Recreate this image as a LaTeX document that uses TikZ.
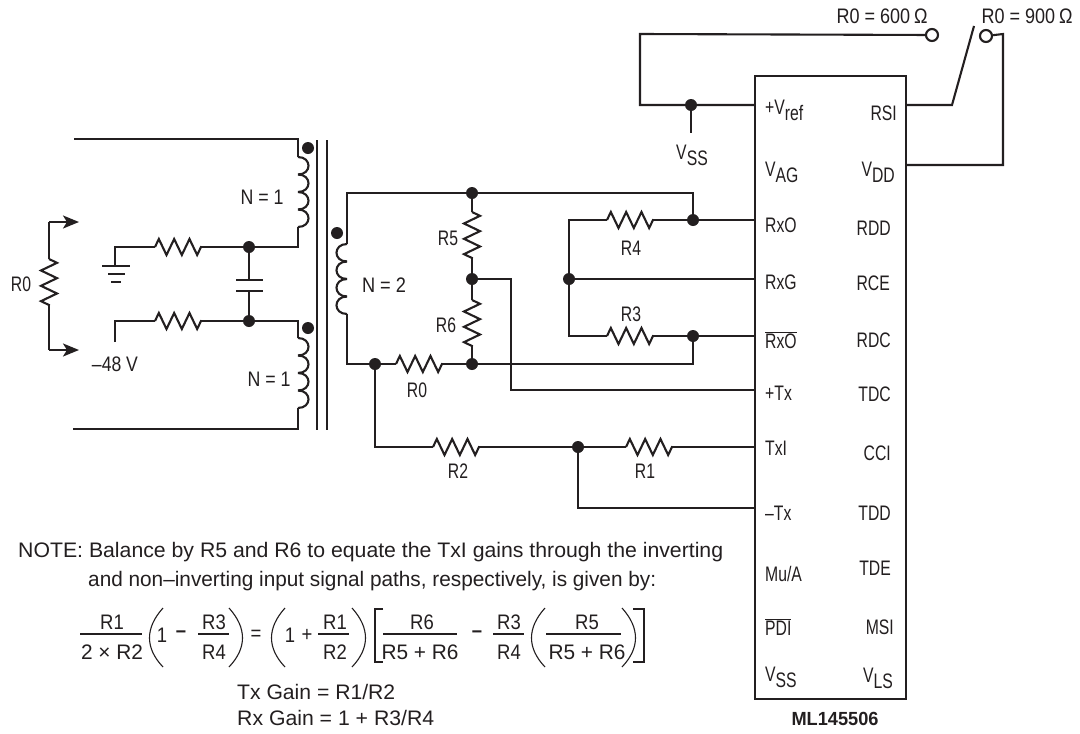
\documentclass[tikz,border=0pt]{standalone}
\usepackage{fontspec}
\usepackage{graphicx}
\setmainfont{Liberation Sans}
\newfontfamily\condf[FakeStretch=0.75]{Liberation Sans}
\newfontfamily\eqf[FakeStretch=0.88]{Liberation Sans}
\newfontfamily\boldf{Liberation Sans Bold}
\usetikzlibrary{arrows.meta,decorations.pathmorphing}
\definecolor{ink}{HTML}{231F20}
\newcommand{\fitw}[2]{\resizebox{#1pt}{\height}{#2}}
\newcommand{\sbs}[2]{#1\raisebox{-6pt}{#2}}
\newcommand{\ovl}[1]{$\overline{\hbox{#1}}$}
\newcommand{\coil}[3]{\foreach \i in {0,1,2,3}{\draw[wire] ({#1},{#2+\i*17.5}) .. controls ({#1+#3*14},{#2+\i*17.5}) and ({#1+#3*14},{#2+\i*17.5+17.5}) .. ({#1},{#2+\i*17.5+17.5});}}
\tikzset{
  wire/.style={draw=ink,line width=2.1pt,line join=miter},
  res/.style={wire,decorate,decoration={zigzag,segment length=15.33pt,amplitude=8pt}},
  thin wire/.style={draw=ink,line width=1.1pt},
  dot/.style={circle,fill=ink,draw=none,inner sep=0pt,minimum size=12pt},
  term/.style={circle,fill=white,draw=ink,line width=2.1pt,inner sep=0pt,minimum size=12pt},
  lab/.style={font=\condf\fontsize{21}{23}\selectfont,text=ink,inner sep=0pt},
  eq/.style={font=\eqf\fontsize{21}{23}\selectfont,text=ink,inner sep=0pt},
  pinl/.style={lab,anchor=west},
  pinr/.style={lab,anchor=east},
  arrowed/.style={wire,-{Stealth[length=16pt,width=13pt,inset=4pt]}},
}
\begin{document}
\begin{tikzpicture}[x=1pt,y=-1pt]
\useasboundingbox[fill=white] (0,0) rectangle (1080,734);

% --- junctions
\node[dot] (jA) at (249,247) {};
\node[dot] (jB) at (249,321) {};
\node[dot] (jT) at (472,193) {};
\node[dot] (jM) at (472,279) {};
\node[dot] (jR) at (472,364) {};
\node[dot] (jL) at (375,364) {};
\node[dot] (j4) at (693,220) {};
\node[dot] (j3) at (693,336) {};
\node[dot] (jG) at (569,279) {};
\node[dot] (jX) at (578,447) {};
\node[dot] (jV) at (691,105) {};
\node[dot] at (308,148) {};
\node[dot] at (308,328) {};
\node[dot] at (337,233) {};

% --- primary windings
\coordinate (p1a) at (74,139);
\coordinate (p1b) at (298,139);
\coordinate (p1c) at (298,157);
\coordinate (p1d) at (298,227);
\coordinate (p1e) at (298,247);
\draw[wire] (p1a) -- (p1b) -- (p1c);
\coil{298}{157}{1}
\draw[wire] (p1d) -- (p1e) -- (jA);
\coordinate (p2a) at (298,321);
\coordinate (p2b) at (298,338);
\coordinate (p2c) at (298,408);
\coordinate (p2d) at (298,429);
\coordinate (p2e) at (73,429);
\draw[wire] (jB) -- (p2a) -- (p2b);
\coil{298}{338}{1}
\draw[wire] (p2c) -- (p2d) -- (p2e);
% core
\coordinate (c1a) at (317,140); \coordinate (c1b) at (317,430);
\coordinate (c2a) at (327,140); \coordinate (c2b) at (327,430);
\draw[wire] (c1a) -- (c1b);
\draw[wire] (c2a) -- (c2b);

% --- ground branch
\coordinate (g0) at (115,266);
\coordinate (g1) at (115,247);
\coordinate (ra1) at (155,247);
\coordinate (ra2) at (201,247);
\draw[wire] (g0) -- (g1) -- (ra1);
\draw[res] (ra1) -- (ra2);
\draw[wire] (ra2) -- (jA);
\draw[wire] (102,266) -- (130,266);
\draw[wire] (108,274) -- (125,274);
\draw[wire] (111,282) -- (121,282);

% --- -48 V branch
\coordinate (v0) at (115,342);
\coordinate (v1) at (115,321);
\coordinate (rb1) at (155,321);
\coordinate (rb2) at (201,321);
\draw[wire] (v0) -- (v1) -- (rb1);
\draw[res] (rb1) -- (rb2);
\draw[wire] (rb2) -- (jB);
\node[lab] at (115,364) {\fitw{46}{–48 V}};

% --- capacitor
\coordinate (cp1) at (249,280);
\coordinate (cp2) at (249,291);
\draw[wire] (jA) -- (cp1);
\draw[wire] (cp2) -- (jB);
\draw[wire] (236,280) -- (263,280);
\draw[wire] (236,291) -- (263,291);

% --- line impedance R0
\coordinate (z0) at (79,222);
\coordinate (z1) at (49,222);
\coordinate (z2) at (49,259);
\coordinate (z3) at (49,305);
\coordinate (z4) at (49,350);
\coordinate (z5) at (79,350);
\draw[wire] (z1) -- (z2);
\draw[arrowed] (z1) -- (z0);
\draw[res] (z2) -- (z3);
\draw[wire] (z3) -- (z4);
\draw[arrowed] (z4) -- (z5);
\node[lab] at (21,284) {R0};
\node[lab] at (262,197) {\fitw{43}{N = 1}};
\node[lab] at (269,379) {\fitw{43}{N = 1}};

% --- secondary
\coordinate (s1) at (347,193);
\coordinate (s2) at (347,244);
\coordinate (s3) at (347,314);
\coordinate (s4) at (347,364);
\coordinate (s5) at (693,193);
\coordinate (s6) at (693,364);
\coil{347}{244}{-1}
\draw[wire] (s2) -- (s1) -- (jT) -- (s5) -- (j4);
\draw[wire] (s3) -- (s4) -- (jL);
\coordinate (r01) at (396,364);
\coordinate (r02) at (442,364);
\draw[wire] (jL) -- (r01);
\draw[res] (r01) -- (r02);
\draw[wire] (r02) -- (jR) -- (s6) -- (j3);
\node[lab] at (384,285) {\fitw{44}{N = 2}};
\node[lab] at (417,390) {R0};

% --- R5 / R6
\coordinate (r51) at (472,212);
\coordinate (r52) at (472,258);
\coordinate (r61) at (472,300);
\coordinate (r62) at (472,346);
\draw[wire] (jT) -- (r51);
\draw[res] (r51) -- (r52);
\draw[wire] (r52) -- (jM) -- (r61);
\draw[res] (r61) -- (r62);
\draw[wire] (r62) -- (jR);
\node[lab] at (448,238) {R5};
\node[lab] at (446,325) {R6};

% --- chip
\node[draw=ink,line width=2.1pt,inner sep=0pt,minimum width=151pt,minimum height=623pt,anchor=north west] (chip) at (754,75) {};
\coordinate (pV) at (754,105);
\coordinate (pO) at (754,220);
\coordinate (pG) at (754,279);
\coordinate (pN) at (754,336);
\coordinate (pT) at (754,390);
\coordinate (pI) at (754,447);
\coordinate (pM) at (754,508);
\coordinate (pS) at (905,105);
\coordinate (pD) at (905,165);

% --- R4 / R3 network
\coordinate (g4) at (569,220);
\coordinate (g3) at (569,336);
\coordinate (r41) at (607,220);
\coordinate (r42) at (653,220);
\coordinate (r31) at (607,336);
\coordinate (r32) at (653,336);
\draw[wire] (jG) -- (g4) -- (r41);
\draw[res] (r41) -- (r42);
\draw[wire] (r42) -- (j4) -- (pO);
\draw[wire] (jG) -- (g3) -- (r31);
\draw[res] (r31) -- (r32);
\draw[wire] (r32) -- (j3) -- (pN);
\draw[wire] (jG) -- (pG);
\node[lab] at (631,248) {R4};
\node[lab] at (631,314) {R3};

% --- +Tx
\coordinate (t1) at (511,279);
\coordinate (t2) at (511,390);
\draw[wire] (jM) -- (t1) -- (t2) -- (pT);

% --- R2 / R1
\coordinate (l1) at (375,447);
\coordinate (r21) at (433,447);
\coordinate (r22) at (479,447);
\coordinate (r11) at (626,447);
\coordinate (r12) at (672,447);
\coordinate (l2) at (578,508);
\draw[wire] (jL) -- (l1) -- (r21);
\draw[res] (r21) -- (r22);
\draw[wire] (r22) -- (jX) -- (r11);
\draw[res] (r11) -- (r12);
\draw[wire] (r12) -- (pI);
\draw[wire] (jX) -- (l2) -- (pM);
\node[lab] at (458,471) {R2};
\node[lab] at (645,471) {R1};

% --- top connections
\coordinate (u1) at (640,105);
\coordinate (u2) at (640,34);
\coordinate (u3) at (691,133);
\node[term] (t600) at (932,35) {};
\node[term] (t900) at (986,36) {};
\coordinate (w1) at (952,105);
\coordinate (w2) at (974,26);
\coordinate (w3) at (1003,34);
\coordinate (w4) at (1003,165);
\draw[wire] (pV) -- (jV) -- (u1) -- (u2) -- (t600);
\draw[wire] (jV) -- (u3);
\draw[wire] (pS) -- (w1) -- (w2);
\draw[wire] (t900) -- (w3) -- (w4) -- (pD);
\node[lab] at (692,155) {\sbs{V}{SS}};
\node[lab] at (882,16) {\fitw{91}{R0 = 600$\,$Ω}};
\node[lab] at (1027,16) {\fitw{91}{R0 = 900$\,$Ω}};

% --- pin labels, left
\node[pinl] at (765,110) {+\sbs{V}{ref}};
\node[pinl] at (765,172) {\sbs{V}{AG}};
\node[pinl] at (765,225) {RxO};
\node[pinl] at (765,282) {RxG};
\node[pinl] at (765,340) {\ovl{RxO}};
\node[pinl] at (765,393) {+Tx};
\node[pinl] at (765,448) {TxI};
\node[pinl] at (765,513) {–Tx};
\node[pinl] at (765,574) {Mu/A};
\node[pinl] at (765,627) {\ovl{PDI}};
\node[pinl] at (765,677) {\sbs{V}{SS}};
% --- pin labels, right
\node[pinr] at (897,113) {RSI};
\node[pinr] at (895,172) {\sbs{V}{DD}};
\node[pinr] at (891,228) {RDD};
\node[pinr] at (890,283) {RCE};
\node[pinr] at (891,340) {RDC};
\node[pinr] at (891,394) {TDC};
\node[pinr] at (891,453) {CCI};
\node[pinr] at (891,513) {TDD};
\node[pinr] at (891,568) {TDE};
\node[pinr] at (894,627) {MSI};
\node[pinr] at (893,678) {\sbs{V}{LS}};
\node[font=\boldf\fontsize{19}{21}\selectfont,text=ink,inner sep=0pt] at (835,719) {\fitw{87}{ML145506}};

% --- note
\node[eq,anchor=west] at (18,552) {\fitw{705}{NOTE: Balance by R5 and R6 to equate the TxI gains through the inverting}};
\node[eq,anchor=west] at (88,581) {\fitw{568}{and non–inverting input signal paths, respectively, is given by:}};

% --- equation
\node[eq] at (112,622) {R1};
\draw[thin wire] (80,634) -- (142,634);
\node[eq] at (112,652) {\fitw{62}{2 × R2}};
\draw[thin wire] (163,608) .. controls (145,628) and (145,648) .. (163,667);
\node[eq] at (162,635) {1};
\node[eq] at (181,634) {\textbf{–}};
\node[eq] at (214,622) {R3};
\draw[thin wire] (198,634) -- (229,634);
\node[eq] at (214,652) {R4};
\draw[thin wire] (229,608) .. controls (247,628) and (247,648) .. (229,667);
\node[eq] at (256,635) {=};
\draw[thin wire] (285,608) .. controls (267,628) and (267,648) .. (285,667);
\node[eq] at (290,635) {1};
\node[eq] at (307,635) {+};
\node[eq] at (335,622) {R1};
\draw[thin wire] (318,634) -- (349,634);
\node[eq] at (335,652) {R2};
\draw[thin wire] (352,608) .. controls (370,628) and (370,648) .. (352,667);
\draw[thin wire] (383,609) -- (375,609) -- (375,662) -- (383,662);
\node[eq] at (422,622) {R6};
\draw[thin wire] (383,634) -- (457,634);
\node[eq] at (420,652) {\fitw{77}{R5 + R6}};
\node[eq] at (477,634) {\textbf{–}};
\node[eq] at (509,622) {R3};
\draw[thin wire] (493,634) -- (524,634);
\node[eq] at (509,652) {R4};
\draw[thin wire] (545,608) .. controls (527,628) and (527,648) .. (545,667);
\node[eq] at (587,622) {R5};
\draw[thin wire] (546,634) -- (621,634);
\node[eq] at (587,652) {\fitw{77}{R5 + R6}};
\draw[thin wire] (622,608) .. controls (640,628) and (640,648) .. (622,667);
\draw[thin wire] (633,609) -- (644,609) -- (644,662) -- (633,662);
\node[eq,anchor=west] at (237,692) {\fitw{158}{Tx Gain = R1/R2}};
\node[eq,anchor=west] at (237,718) {\fitw{197}{Rx Gain = 1 + R3/R4}};
\end{tikzpicture}
\end{document}
